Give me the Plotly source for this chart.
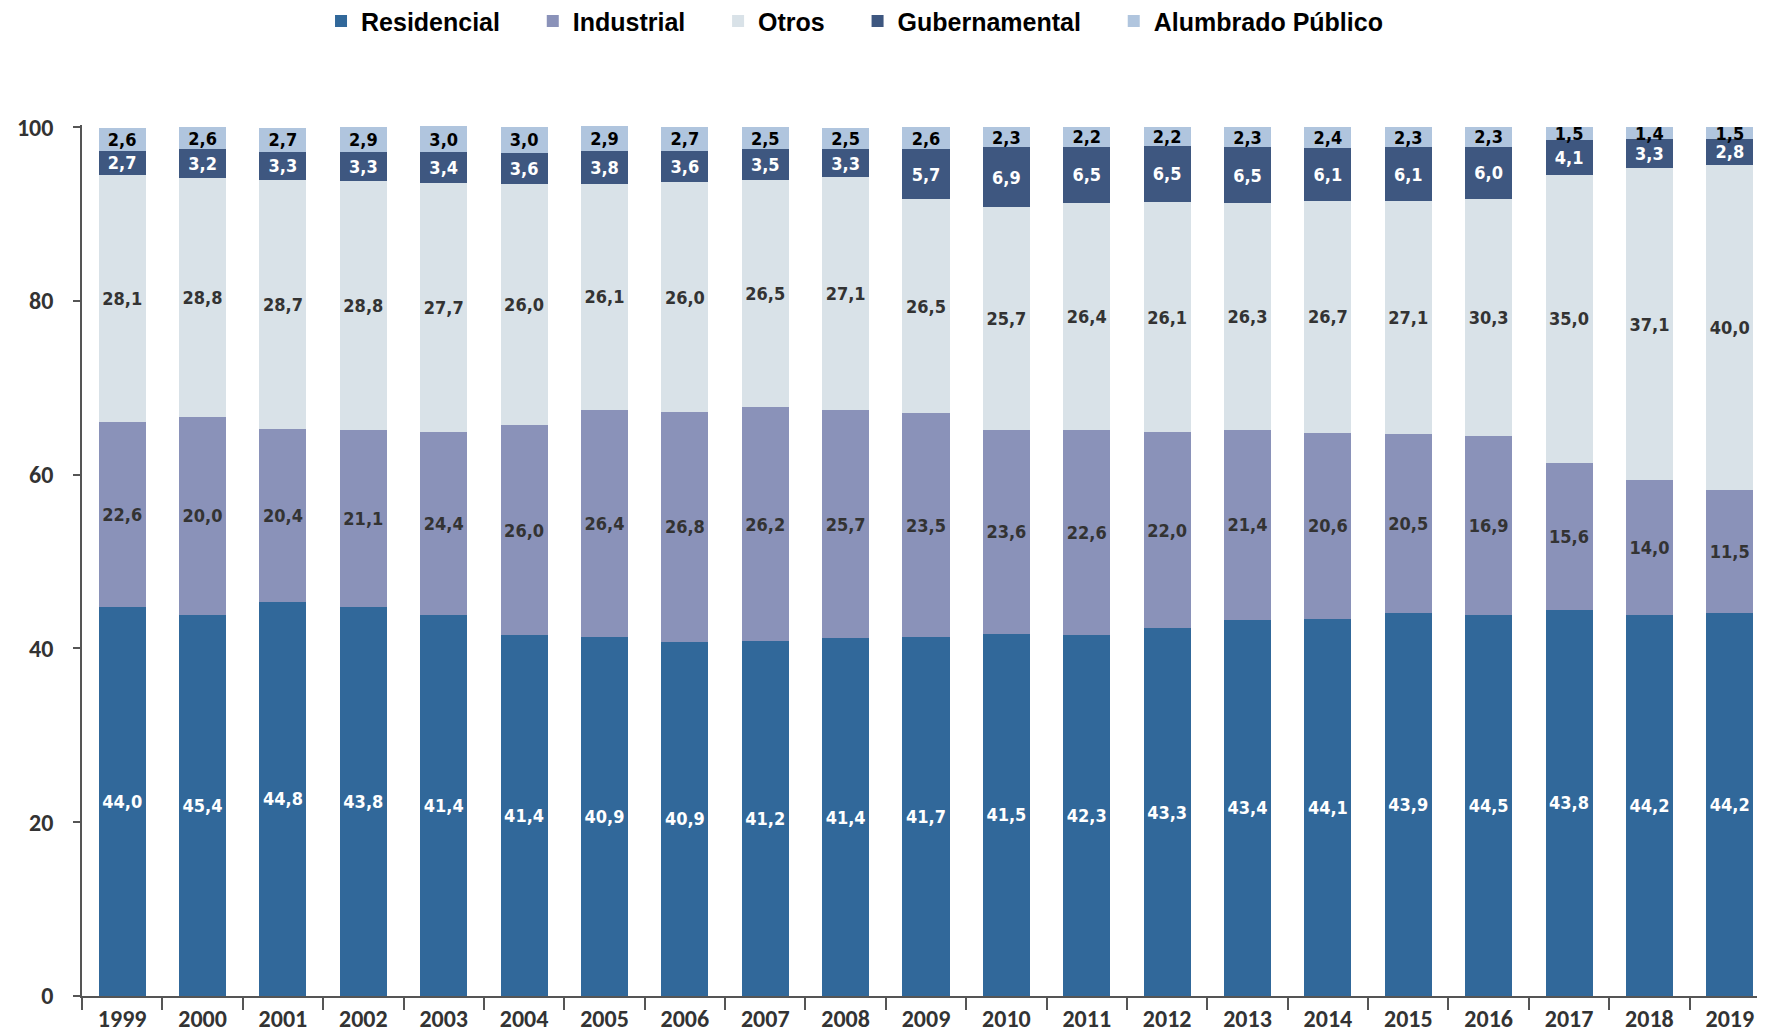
import plotly.graph_objects as go

years = [str(y) for y in range(1999, 2020)]

# bar heights (%)
residencial = [44.8, 43.9, 45.4, 44.8, 43.8, 41.5, 41.35, 40.8, 40.9, 41.2, 41.35,
               41.7, 41.5, 42.3, 43.3, 43.4, 44.1, 43.9, 44.45, 43.8, 44.1]
industrial = [21.3, 22.7, 19.9, 20.4, 21.1, 24.25, 26.1, 26.4, 26.85, 26.2, 25.7,
              23.5, 23.65, 22.6, 21.9, 21.45, 20.6, 20.55, 16.95, 15.55, 14.1]
otros = [28.45, 27.6, 28.6, 28.6, 28.7, 27.7, 26.05, 26.5, 26.2, 26.85, 24.7,
         25.6, 26.15, 26.5, 26.05, 26.65, 26.8, 27.3, 33.1, 35.95, 37.5]
gubernamental = [2.7, 3.25, 3.3, 3.3, 3.5, 3.6, 3.8, 3.6, 3.55, 3.2, 5.7,
                 6.9, 6.45, 6.45, 6.45, 6.1, 6.2, 6.0, 4.05, 3.35, 2.9]
alumbrado = [2.7, 2.6, 2.7, 2.9, 3.0, 3.0, 2.85, 2.7, 2.5, 2.5, 2.6,
             2.3, 2.25, 2.15, 2.3, 2.4, 2.3, 2.3, 1.45, 1.35, 1.45]

# data labels as printed on the chart
lbl_residencial = ["44,0", "45,4", "44,8", "43,8", "41,4", "41,4", "40,9", "40,9", "41,2", "41,4", "41,7",
                   "41,5", "42,3", "43,3", "43,4", "44,1", "43,9", "44,5", "43,8", "44,2", "44,2"]
lbl_industrial = ["22,6", "20,0", "20,4", "21,1", "24,4", "26,0", "26,4", "26,8", "26,2", "25,7", "23,5",
                  "23,6", "22,6", "22,0", "21,4", "20,6", "20,5", "16,9", "15,6", "14,0", "11,5"]
lbl_otros = ["28,1", "28,8", "28,7", "28,8", "27,7", "26,0", "26,1", "26,0", "26,5", "27,1", "26,5",
             "25,7", "26,4", "26,1", "26,3", "26,7", "27,1", "30,3", "35,0", "37,1", "40,0"]
lbl_gubernamental = ["2,7", "3,2", "3,3", "3,3", "3,4", "3,6", "3,8", "3,6", "3,5", "3,3", "5,7",
                     "6,9", "6,5", "6,5", "6,5", "6,1", "6,1", "6,0", "4,1", "3,3", "2,8"]
lbl_alumbrado = ["2,6", "2,6", "2,7", "2,9", "3,0", "3,0", "2,9", "2,7", "2,5", "2,5", "2,6",
                 "2,3", "2,2", "2,2", "2,3", "2,4", "2,3", "2,3", "1,5", "1,4", "1,5"]

series = [
    ("Residencial", residencial, lbl_residencial, "#31689a", "white"),
    ("Industrial", industrial, lbl_industrial, "#8a92b9", "#333333"),
    ("Otros", otros, lbl_otros, "#d9e2e8", "#333333"),
    ("Gubernamental", gubernamental, lbl_gubernamental, "#3e5780", "white"),
    ("Alumbrado Público", alumbrado, lbl_alumbrado, "#b0c5de", "black"),
]

label_font = "DejaVu Sans Condensed, DejaVu Sans"
axis_font = "Carlito, Calibri, Roboto"
pad = "\u00a0" * 4  # extra room between legend entries

fig = go.Figure()
for name, vals, labels, color, tcolor in series:
    fig.add_trace(go.Bar(
        x=years, y=vals, name="<b>" + name + "</b>" + pad,
        marker=dict(color=color, line=dict(width=0)),
        text=labels, textposition="inside", insidetextanchor="middle", textangle=0,
        textfont=dict(family=label_font, size=18, color=tcolor, weight="bold"),
        cliponaxis=False, hoverinfo="x+y+name",
    ))

# range slightly above 100 so stacks summing to ~100.1 keep their labels
fig.update_layout(
    barmode="stack", bargap=0.415,
    width=1765, height=1032,
    margin=dict(l=74, r=3, t=117, b=44, autoexpand=False),
    plot_bgcolor="white", paper_bgcolor="white",
    uniformtext=dict(minsize=18, mode="show"),
    legend=dict(orientation="h", x=0.1416, xanchor="left", y=1.119, yanchor="middle",
                font=dict(family="Liberation Sans", size=25, color="black"),
                traceorder="normal"),
    showlegend=True,
)

fig.update_xaxes(
    type="category", range=[-0.5, 20.5], showline=True, linecolor="#555555", linewidth=1.5,
    ticks="outside", tickson="boundaries", ticklen=12, tickcolor="#555555", tickwidth=1.5,
    tickfont=dict(family=axis_font, size=24, color="#333333", weight="bold"),
    showgrid=False, automargin=False,
)
fig.update_yaxes(
    range=[0, 100.25], tickvals=[0, 20, 40, 60, 80, 100], showline=True, linecolor="#555555",
    linewidth=1.5, ticks="outside", ticklen=7, tickcolor="#555555", tickwidth=1.5,
    tickfont=dict(family=axis_font, size=24, color="#333333", weight="bold"),
    ticklabelstandoff=15, showgrid=False, zeroline=False, automargin=False,
)

fig.write_html("out.html")
